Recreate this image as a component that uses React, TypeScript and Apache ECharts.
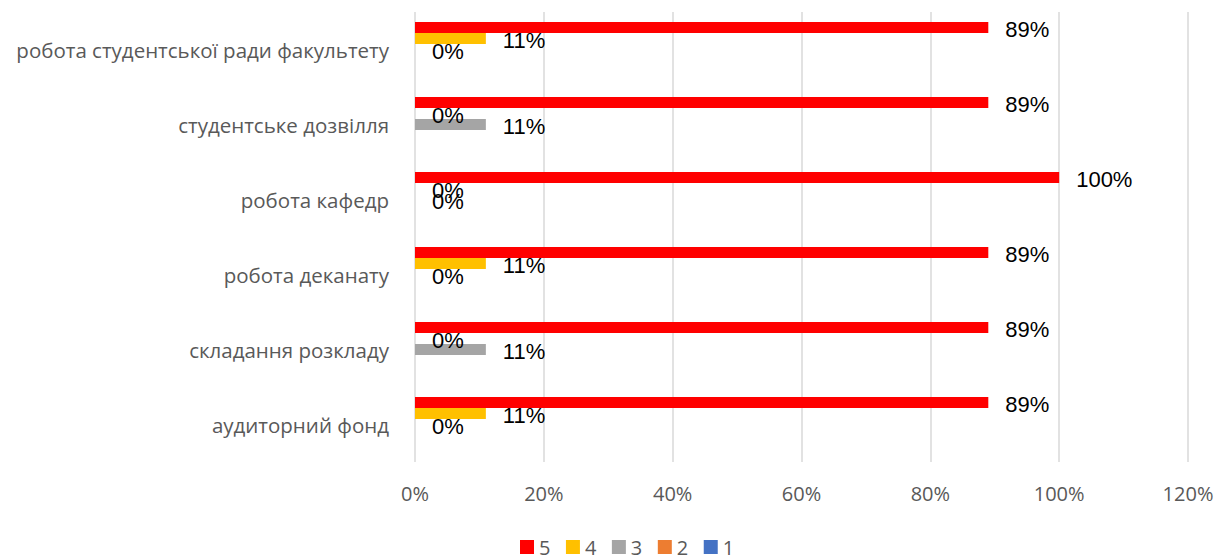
import React, { useEffect, useRef } from "react";
import * as echarts from "echarts";

const categories = [
  "аудиторний фонд",
  "складання розкладу",
  "робота деканату",
  "робота кафедр",
  "студентське дозвілля",
  "робота студентської ради факультету",
];
const seriesNames = ["5", "4", "3", "2", "1"];
const s5 = [89, 89, 89, 100, 89, 89];
const s4 = [11, 0, 11, 0, 0, 11];
const s3 = [0, 11, 0, 0, 11, 0];
const s2: (number | null)[] = [null, null, null, null, null, null];
const s1: (number | null)[] = [null, null, null, null, null, null];
const colors = ["#FF0000", "#FFC000", "#A5A5A5", "#ED7D31", "#4472C4"];
const xTicks = [0, 20, 40, 60, 80, 100, 120];

export default function App() {
  const ref = useRef<HTMLDivElement>(null);
  useEffect(() => {
    if (!ref.current) return;
    const chart = echarts.init(ref.current, undefined, { renderer: "svg" });
    const dataSets = [s5, s4, s3, s2, s1];
    const font = "'Liberation Sans', Arial, sans-serif";
    const font2 = "'Open Sans', sans-serif";
    chart.setOption({
      animation: false,
      textStyle: { fontFamily: font },
      grid: { left: 415, right: 33, top: 12, bottom: 94, containLabel: false },
      legend: {
        top: 537,
        left: 520,
        padding: 0,
        data: seriesNames,
        icon: "rect",
        itemWidth: 14,
        itemHeight: 14,
        itemGap: 15.5,
        textStyle: {
          color: "#595959",
          fontSize: 20,
          lineHeight: 18,
          fontFamily: font2,
        },
      },
      xAxis: {
        type: "value",
        min: xTicks[0],
        max: xTicks[xTicks.length - 1],
        interval: 20,
        axisLine: { show: false },
        axisTick: { show: false },
        splitLine: { lineStyle: { color: "#D9D9D9", width: 1.5 } },
        axisLabel: {
          formatter: "{value}%",
          color: "#595959",
          fontSize: 20,
          margin: 21,
          fontFamily: font2,
        },
      },
      yAxis: {
        type: "category",
        data: categories,
        axisLine: { show: false },
        axisTick: { show: false },
        axisLabel: { color: "#595959", fontSize: 20.5, margin: 26, fontFamily: font2 },
      },
      series: seriesNames.map((name, i) => ({
        name,
        type: "bar",
        data: dataSets[i],
        barWidth: 11,
        barGap: "0%",
        itemStyle: { color: colors[i] },
        label: {
          show: true,
          position: "right",
          distance: 17,
          offset: [0, 2],
          formatter: (p: any) => (p.value == null ? "" : p.value + "%"),
          color: "#000000",
          fontSize: 22,
          fontFamily: font,
        },
      })),
    });
    return () => chart.dispose();
  }, []);
  return (
    <div
      ref={ref}
      style={{ position: "absolute", left: 0, top: 0, width: 1221, height: 556 }}
    />
  );
}
